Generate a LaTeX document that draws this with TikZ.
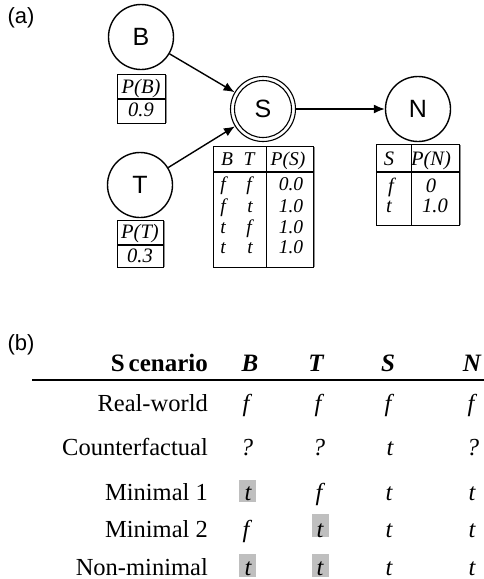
\documentclass[tikz,border=0pt]{standalone}
\usepackage{fontspec}
\setmainfont{Liberation Serif}
\newfontfamily\lsans{Liberation Sans}
\usetikzlibrary{arrows.meta}
\begin{document}
\begin{tikzpicture}[x=1pt,y=-1pt,
  var/.style={circle,draw,line width=1.4pt,minimum size=65pt,inner sep=0pt,font=\lsans\fontsize{25}{25}\selectfont},
  edge/.style={line width=1.4pt,-{Latex[length=11pt,width=9pt]}},
  cpt/.style={draw,line width=0.8pt},
  shade/.style={draw=black!45,line width=1.6pt},
  hdr/.style={line width=1.6pt},
  tt/.style={font=\fontsize{20.5}{20}\selectfont\itshape,inner sep=0pt,anchor=base},
  lab/.style={font=\lsans\fontsize{22}{22}\selectfont,inner sep=0pt},
  rowlab/.style={font=\fontsize{24.5}{25}\selectfont,inner sep=0pt,anchor=base east},
  colhd/.style={font=\fontsize{25}{25}\selectfont\bfseries\itshape,inner sep=0pt,anchor=base},
  val/.style={font=\fontsize{24.5}{25}\selectfont\itshape,inner sep=0pt,anchor=base},
  hl/.style={fill=black!25,draw=none}
]
\useasboundingbox (0,0) rectangle (484,579);

% ---------- (a) ----------
\node[lab] (la) at (21,18) {(a)};

\node[var] (B) at (141,37) {B};
\node[var] (T) at (140,185) {T};
\node[var,line width=1.1pt] (S) at (263,109) {S};
\draw[line width=1.1pt] (S.center) circle (28.5);
\node[var] (N) at (418,109) {N};

\draw[edge] (B) -- (S);
\draw[edge] (T) -- (S);
\draw[edge] (S) -- (N);

% P(B)
\draw[shade] (166,75) -- (166,123);
\draw[cpt] (117,74) rectangle (165,123);
\draw[hdr] (117,99) -- (165,99);
\node[tt] (pb1) at (141,93) {P(B)};
\node[tt] (pb2) at (141,116) {0.9};

% P(T)
\draw[shade] (164,221) -- (164,267);
\draw[cpt] (117,220) rectangle (163,267);
\draw[hdr] (117,245) -- (163,245);
\node[tt] (pt1) at (140,238) {P(T)};
\node[tt] (pt2) at (140,262) {0.3};

% P(S)
\draw[shade] (314,147) -- (314,267);
\draw[cpt] (213,146) rectangle (313,267);
\draw[hdr] (213,172) -- (313,172);
\draw[cpt] (266,146) -- (266,267);
\begin{scope}[tt/.append style={font=\fontsize{19.5}{20}\selectfont\itshape}]
\node[tt] (sh1) at (227,165) {B};
\node[tt] (sh2) at (249,165) {T};
\node[tt] (sh3) at (288,165) {P(S)};
\node[tt] (s11) at (223,190) {f};
\node[tt] (s12) at (249,190) {f};
\node[tt] (s13) at (291,190) {0.0};
\node[tt] (s21) at (223,212) {f};
\node[tt] (s22) at (250,212) {t};
\node[tt] (s23) at (291,212) {1.0};
\node[tt] (s31) at (223,233) {t};
\node[tt] (s32) at (249,233) {f};
\node[tt] (s33) at (291,233) {1.0};
\node[tt] (s41) at (223,253) {t};
\node[tt] (s42) at (250,253) {t};
\node[tt] (s43) at (291,253) {1.0};
\end{scope}

% P(N)
\draw[shade] (460,145) -- (460,225);
\draw[cpt] (376,144) rectangle (459,225);
\draw[hdr] (376,172) -- (459,172);
\draw[cpt] (411,144) -- (411,225);
\node[tt] (nh1) at (389,165) {S};
\node[tt] (nh2) at (431,165) {P(N)};
\node[tt] (n11) at (391,192) {f};
\node[tt] (n12) at (431,192) {0};
\node[tt] (n21) at (389,212) {t};
\node[tt] (n22) at (435,212) {1.0};

% ---------- (b) ----------
\node[lab] (lb) at (21,345) {(b)};

\node[font=\fontsize{25}{25}\selectfont\bfseries,inner sep=0pt,anchor=base east] (hsc) at (208,371) {S\kern4pt cenario};
\node[colhd] (hB) at (250,371) {B};
\node[colhd] (hT) at (316,371) {T};
\node[colhd] (hS) at (388,371) {S};
\node[colhd] (hN) at (472,371) {N};
\draw[line width=2pt] (32,380) -- (484,380);

% highlights
\fill[hl] (239,480) rectangle (256,502);
\fill[hl] (312,514) rectangle (329,537);
\fill[hl] (239,554) rectangle (256,577);
\fill[hl] (312,554) rectangle (329,577);

\node[rowlab] (r1) at (208,411) {Real-world};
\node[val] (r1b) at (246,411) {f};
\node[val] (r1t) at (318,411) {f};
\node[val] (r1s) at (388,411) {f};
\node[val] (r1n) at (471,411) {f};

\node[rowlab] (r2) at (208,455) {Counterfactual};
\node[val] (r2b) at (247,455) {?};
\node[val] (r2t) at (319,455) {?};
\node[val] (r2s) at (390,455) {t};
\node[val] (r2n) at (473,455) {?};

\node[rowlab] (r3) at (208,500) {Minimal 1};
\node[val] (r3b) at (248,500) {t};
\node[val] (r3t) at (319,500) {f};
\node[val] (r3s) at (389,500) {t};
\node[val] (r3n) at (472,500) {t};

\node[rowlab] (r4) at (208,537) {Minimal 2};
\node[val] (r4b) at (246,537) {f};
\node[val] (r4t) at (320,537) {t};
\node[val] (r4s) at (389,537) {t};
\node[val] (r4n) at (472,537) {t};

\node[rowlab] (r5) at (208,575) {Non-minimal};
\node[val] (r5b) at (248,575) {t};
\node[val] (r5t) at (320,575) {t};
\node[val] (r5s) at (389,575) {t};
\node[val] (r5n) at (472,575) {t};
\end{tikzpicture}
\end{document}
